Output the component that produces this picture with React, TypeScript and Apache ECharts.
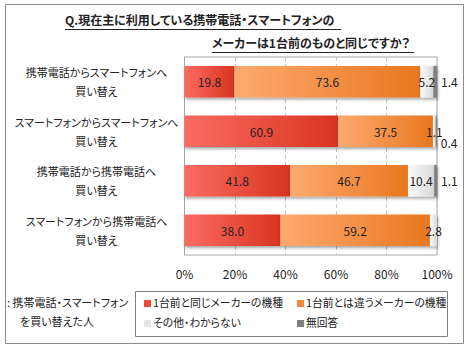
import React, { useEffect, useRef } from "react";
import * as echarts from "echarts";

const categories = [
  "携帯電話からスマートフォンへ\n買い替え",
  "スマートフォンからスマートフォンへ\n買い替え",
  "携帯電話から携帯電話へ\n買い替え",
  "スマートフォンから携帯電話へ\n買い替え",
];
const seriesNames = [
  "1台前と同じメーカーの機種",
  "1台前とは違うメーカーの機種",
  "その他・わからない",
  "無回答",
];
const sameMaker = [19.8, 60.9, 41.8, 38.0];
const otherMaker = [73.6, 37.5, 46.7, 59.2];
const otherUnknown = [5.2, 1.1, 10.4, 2.8];
const noAnswer = [1.4, 0.4, 1.1, 0];
const xTicks = [0, 20, 40, 60, 80, 100];

const FONT = "'Noto Sans CJK JP', sans-serif";

const grad = (a: string, b: string) =>
  new echarts.graphic.LinearGradient(0, 0, 1, 0, [
    { offset: 0, color: a },
    { offset: 1, color: b },
  ]);

export default function App() {
  const ref = useRef<HTMLDivElement>(null);
  useEffect(() => {
    if (!ref.current) return;
    const styleEl = document.createElement("style");
    styleEl.textContent = "svg text { font-feature-settings: 'palt' 1; }";
    document.head.appendChild(styleEl);
    const chart = echarts.init(ref.current, null, { renderer: "svg" });
    const shadow = {
      shadowColor: "rgba(0,0,0,0.35)",
      shadowBlur: 3,
      shadowOffsetX: 1,
      shadowOffsetY: 2,
    };
    const labelBase = {
      show: true,
      position: "inside" as const,
      color: "#222",
      fontSize: 12,
      fontFamily: FONT,
      formatter: (p: any) => (p.value ? Number(p.value).toFixed(1) : ""),
    };
    const fills = [
      grad("#fb6c62", "#d8341f"),
      grad("#fdaa70", "#e9771f"),
      grad("#fbfbfb", "#d9d9d9"),
      "#7f7f7f",
    ];
    const legendColors = ["#ed4b3b", "#f58a3a", "#e6e6e6", "#7f7f7f"];
    const legendPos = [
      [144, 297],
      [297, 297],
      [144, 317],
      [297, 317],
    ];
    const datas = [sameMaker, otherMaker, otherUnknown, noAnswer];
    const series: any[] = datas.map((d, i) => ({
      name: seriesNames[i],
      type: "bar",
      stack: "total",
      barWidth: "64%",
      data:
        i === 3
          ? d.map((v, j) =>
              j === 1
                ? { value: v, label: { offset: [0, 11] } }
                : { value: v }
            )
          : d,
      itemStyle: { color: fills[i], ...shadow },
      label:
        i === 3
          ? { ...labelBase, position: "right", distance: 4 }
          : labelBase,
    }));

    const legendGraphics: any[] = [];
    seriesNames.forEach((n, i) => {
      const [x, y] = legendPos[i];
      legendGraphics.push({
        type: "rect",
        shape: { x, y: y + 3, width: 7, height: 7 },
        style: { fill: legendColors[i] },
      });
      legendGraphics.push({
        type: "text",
        x: x + 9,
        y,
        style: { text: n, fontSize: 10.8, fill: "#222", fontFamily: FONT },
      });
    });

    chart.setOption({
      animation: false,
      textStyle: { fontFamily: FONT },
      grid: {
        left: 175,
        right: 33,
        top: 57,
        bottom: 95,
        show: true,
        borderColor: "#a6a6a6",
        borderWidth: 1,
      },
      xAxis: {
        type: "value",
        min: 0,
        max: 100,
        interval: 20,
        axisLine: { show: false },
        axisTick: { show: false },
        axisLabel: {
          formatter: (v: number) => (xTicks.includes(v) ? v + "%" : ""),
          color: "#222",
          fontSize: 12,
          margin: 12,
          fontFamily: FONT,
        },
        splitLine: {
          show: true,
          lineStyle: { color: "#c8c8c8", type: [4, 3] },
        },
      },
      yAxis: {
        type: "category",
        data: categories,
        inverse: true,
        axisLine: { show: true, lineStyle: { color: "#a6a6a6" } },
        axisTick: { show: false },
        axisLabel: {
          color: "#222",
          fontSize: 11,
          lineHeight: 19,
          align: "center",
          margin: 88,
          fontFamily: FONT,
        },
      },
      series,
      graphic: [
        {
          type: "rect",
          shape: { x: 5.5, y: 4.5, width: 458, height: 339 },
          style: { fill: "none", stroke: "#8c8c8c", lineWidth: 1 },
          silent: true,
        },
        {
          type: "rect",
          shape: { x: 135.5, y: 291.5, width: 312, height: 45 },
          style: { fill: "none", stroke: "#7f7f7f", lineWidth: 1 },
          silent: true,
          z: 10,
        },
        {
          type: "text",
          x: 65,
          y: 13,
          style: {
            text: "Q.現在主に利用している携帯電話・スマートフォンの",
            fontSize: 12,
            fontWeight: "bold",
            fill: "#222",
            fontFamily: FONT,
          },
        },
        {
          type: "line",
          shape: { x1: 65, y1: 29.5, x2: 341, y2: 29.5 },
          style: { stroke: "#222", lineWidth: 1 },
        },
        {
          type: "text",
          x: 212,
          y: 36,
          style: {
            text: "メーカーは1台前のものと同じですか？",
            fontSize: 12,
            fontWeight: "bold",
            fill: "#222",
            fontFamily: FONT,
          },
        },
        {
          type: "line",
          shape: { x1: 212, y1: 52.5, x2: 414, y2: 52.5 },
          style: { stroke: "#222", lineWidth: 1 },
        },
        {
          type: "text",
          x: 7,
          y: 296,
          style: {
            text: ": 携帯電話・スマートフォン",
            fontSize: 11,
            fill: "#222",
            fontFamily: FONT,
          },
        },
        {
          type: "text",
          x: 20,
          y: 315,
          style: {
            text: "を買い替えた人",
            fontSize: 11,
            fill: "#222",
            fontFamily: FONT,
          },
        },
        ...legendGraphics,
      ],
    });
    return () => {
      chart.dispose();
      styleEl.remove();
    };
  }, []);
  return (
    <div
      ref={ref}
      style={{ position: "fixed", left: 0, top: 0, width: 470, height: 350, background: "#fff" }}
    />
  );
}
